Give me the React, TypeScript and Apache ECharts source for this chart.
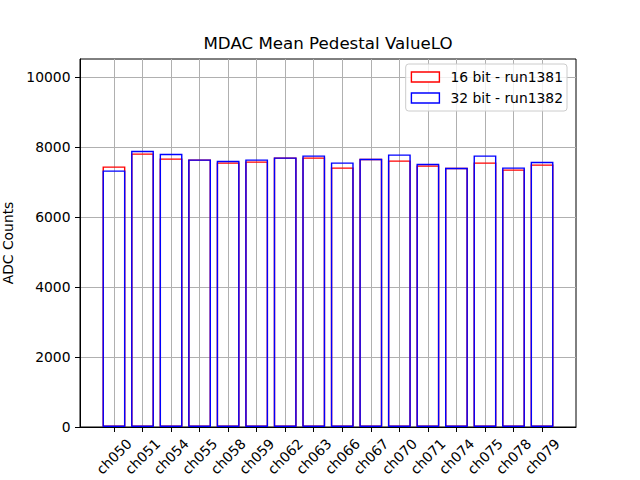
import React, { useEffect, useRef } from "react";
import * as echarts from "echarts";

const categories = ["ch050", "ch051", "ch054", "ch055", "ch058", "ch059", "ch062", "ch063", "ch066", "ch067", "ch070", "ch071", "ch074", "ch075", "ch078", "ch079"];
const run1381 = [7442, 7813, 7670, 7642, 7556, 7585, 7699, 7699, 7414, 7660, 7613, 7470, 7403, 7556, 7356, 7499];
const run1382 = [7328, 7888, 7802, 7642, 7602, 7642, 7699, 7756, 7556, 7660, 7785, 7517, 7403, 7756, 7414, 7574];
const yTicks = [0, 2000, 4000, 6000, 8000, 10000];
const seriesNames = ["16 bit - run1381", "32 bit - run1382"];
const seriesColors = ["#ff0000", "#0000ff"];

const FONT = "DejaVu Sans";

export default function App() {
  const ref = useRef<HTMLDivElement>(null);
  useEffect(() => {
    if (!ref.current) return;
    const chart = echarts.init(ref.current, null, { renderer: "svg" });
    const idx = categories.map((_, i) => i);
    const makeSeries = (name: string, vals: number[], color: string) => ({
      type: "bar",
      name,
      data: vals.map((v, i) => [i, v]),
      barWidth: "80%",
      barGap: "-100%",
      itemStyle: { color: "transparent", borderColor: color, borderWidth: 1.4 },
      emphasis: { disabled: true },
    });
    chart.setOption({
      animation: false,
      graphic: [
        {
          type: "text",
          x: 328,
          y: 43.3,
          style: {
            text: "MDAC Mean Pedestal ValueLO",
            font: `16.67px '${FONT}'`,
            fill: "#000",
            textAlign: "center",
            textVerticalAlign: "middle",
          },
        },
      ],
      grid: {
        left: 80,
        right: 64,
        top: 59,
        bottom: 53,
        outerBoundsMode: "none",
        containLabel: false,
        show: true,
        borderColor: "#000",
        borderWidth: 1,
        backgroundColor: "transparent",
      },
      legend: {
        orient: "vertical",
        right: 73,
        top: 64,
        padding: [6, 4, 6, 5],
        itemGap: 7,
        itemWidth: 28,
        itemHeight: 10,
        backgroundColor: "rgba(255,255,255,0.8)",
        borderColor: "#cccccc",
        borderWidth: 1,
        borderRadius: 3,
        textStyle: { fontFamily: FONT, fontSize: 13.89, color: "#000", lineHeight: 14, padding: [0, 0, 0, 6] },
        data: seriesNames.map((n, i) => ({
          name: n,
          icon: "rect",
          itemStyle: { color: "#fff", borderColor: seriesColors[i], borderWidth: 1.4 },
        })),
      },
      xAxis: {
        type: "value",
        min: -1.19,
        max: 16.19,
        axisLine: { show: true, onZero: false, lineStyle: { color: "#000", width: 1 } },
        axisTick: {
          show: true,
          customValues: idx,
          length: 5,
          inside: false,
          lineStyle: { color: "#000", width: 1 },
        },
        axisLabel: {
          customValues: idx,
          formatter: (v: number) => categories[Math.round(v)] ?? "",
          rotate: 45,
          align: "center",
          verticalAlign: "middle",
          margin: 29.5,
          fontFamily: FONT,
          fontSize: 13.89,
          color: "#000",
        },
        splitLine: { show: true, lineStyle: { color: "#b0b0b0", width: 1 } },
      },
      yAxis: {
        type: "value",
        min: 0,
        max: 10510,
        interval: 2000,
        name: "ADC Counts",
        nameLocation: "middle",
        nameGap: 60,
        nameTextStyle: { fontFamily: FONT, fontSize: 13.89, color: "#000" },
        axisLine: { show: true, onZero: false, lineStyle: { color: "#000", width: 1 } },
        axisTick: {
          show: true,
          customValues: yTicks,
          length: 5,
          lineStyle: { color: "#000", width: 1 },
        },
        axisLabel: {
          customValues: yTicks,
          formatter: (v: number) => String(v),
          margin: 9.5,
          fontFamily: FONT,
          fontSize: 13.89,
          color: "#000",
        },
        splitLine: { show: true, showMinLine: false, lineStyle: { color: "#b0b0b0", width: 1 } },
      },
      series: [
        makeSeries(seriesNames[0], run1381, seriesColors[0]),
        makeSeries(seriesNames[1], run1382, seriesColors[1]),
      ],
    });
    return () => chart.dispose();
  }, []);
  return (
    <div
      ref={ref}
      style={{ position: "fixed", left: 0, top: 0, width: 640, height: 480, background: "#fff" }}
    />
  );
}
